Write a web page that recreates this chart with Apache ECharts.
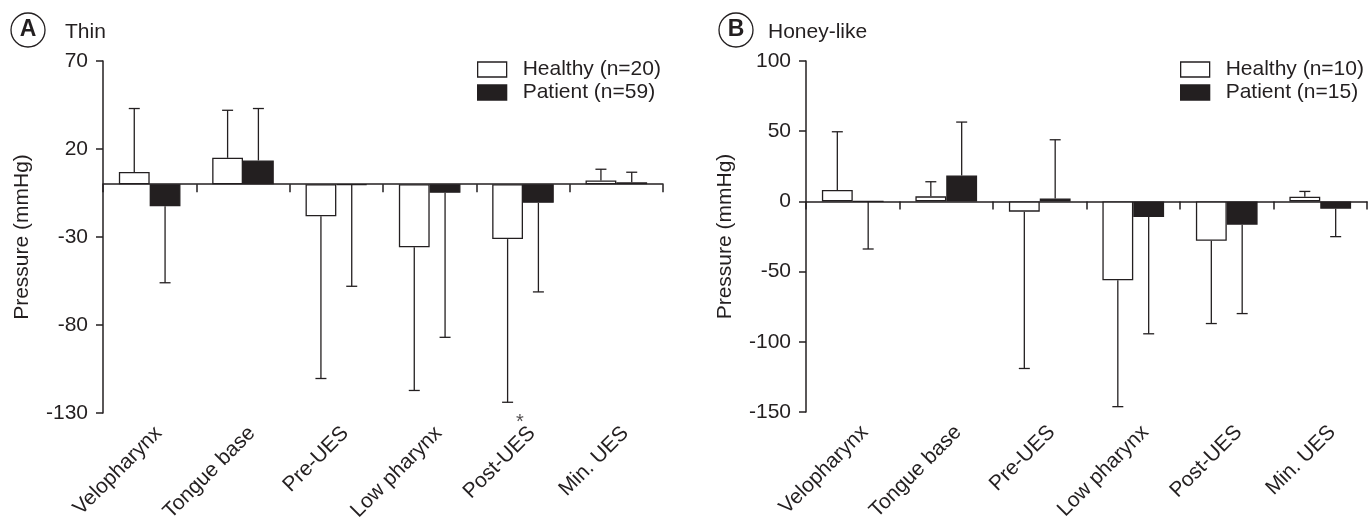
<!DOCTYPE html>
<html>
<head>
<meta charset="utf-8">
<script src="https://cdn.jsdelivr.net/npm/echarts@6/dist/echarts.min.js"></script>
<style>
html,body{margin:0;padding:0;background:#fff;}
#chart{width:1368px;height:519px;}
</style>
</head>
<body>
<div id="chart"></div>
<script>
// ---------- data ----------
const categories = ['Velopharynx', 'Tongue base', 'Pre-UES', 'Low pharynx', 'Post-UES', 'Min. UES'];

// Panel A: Thin
const thinHealthy    = [7, 15, -18.2, -35.8, -31.2, 2.1];
const thinHealthyErr = [43, 42, -110.4, -117.2, -123.9, 8.5];   // error bar end values
const thinPatient    = [-12.5, 13.5, -0.5, -4.9, -10.6, 1.1];
const thinPatientErr = [-56, 43, -58, -87, -61.2, 6.8];
const thinTicks      = [70, 20, -30, -80, -130];
const thinLegend     = ['Healthy (n=20)', 'Patient (n=59)'];
const thinMarkCats   = ['Post-UES'];
const thinMarkText   = ['*'];

// Panel B: Honey-like
const honeyHealthy    = [8.1, 3.6, -7.3, -56.2, -28, 3.3];
const honeyHealthyErr = [49.6, 14, -119, -146.2, -87, 7.1];
const honeyPatient    = [0, 18.5, 2.1, -11.1, -16.6, -5.2];
const honeyPatientErr = [-33.9, 56.5, 43.9, -94.3, -79.9, -25.1];
const honeyTicks      = [100, 50, 0, -50, -100, -150];
const honeyLegend     = ['Healthy (n=10)', 'Patient (n=15)'];

// ---------- styles ----------
const INK = '#231f20';
const FONT = '"Liberation Sans", Arial, Helvetica, sans-serif';
const FS = 21;
const CAT_GAP = 0.34;

function errRender(side) {
  return function (params, api) {
    const i = api.value(0);
    const p0 = api.coord([i, api.value(1)]);
    const p1 = api.coord([i, api.value(2)]);
    const band = api.size([1, 0])[0];
    const x = p0[0] + side * band * (1 - CAT_GAP) / 4;
    const cap = 5.5;
    const st = { stroke: INK, lineWidth: 1.3 };
    return {
      type: 'group',
      children: [
        { type: 'line', shape: { x1: x, y1: p0[1], x2: x, y2: p1[1] }, style: st },
        { type: 'line', shape: { x1: x - cap, y1: p1[1], x2: x + cap, y2: p1[1] }, style: st }
      ]
    };
  };
}

function errData(mean, end) {
  return mean.map((m, i) => [i, m, end[i]]);
}

function yAxisFor(gridIndex, ticks, useCustom) {
  const min = Math.min.apply(null, ticks), max = Math.max.apply(null, ticks);
  const ax = {
    type: 'value', gridIndex: gridIndex, min: min, max: max,
    name: 'Pressure (mmHg)', nameLocation: 'middle', nameGap: 70,
    nameTextStyle: { fontSize: FS, color: INK, fontFamily: FONT },
    axisLine: { show: true, lineStyle: { color: INK, width: 1.5 } },
    axisTick: { show: true, length: 7, lineStyle: { color: INK, width: 1.5 } },
    axisLabel: { fontSize: FS, color: INK, fontFamily: FONT, margin: 15 },
    splitLine: { show: false }
  };
  if (useCustom) {
    ax.axisLabel.customValues = ticks;
    ax.axisTick.customValues = ticks;
  } else {
    ax.interval = 50;
  }
  return ax;
}

function zeroXAxis(gridIndex) {
  return {
    type: 'category', gridIndex: gridIndex, data: categories, position: 'bottom',
    axisLine: { onZero: true, lineStyle: { color: INK, width: 1.5 } },
    axisTick: { show: true, length: 8, lineStyle: { color: INK, width: 1.5 } },
    axisLabel: { show: false }
  };
}
function labelXAxis(gridIndex) {
  return {
    type: 'category', gridIndex: gridIndex, data: categories, position: 'bottom',
    axisLine: { show: false, onZero: false },
    axisTick: { show: false },
    axisLabel: { rotate: 45, fontSize: FS, color: INK, fontFamily: FONT, margin: 17, interval: 0 }
  };
}
function hiddenY(gridIndex) {
  return { type: 'value', gridIndex: gridIndex, show: false, min: 0, max: 1 };
}

function legendFor(names, left) {
  return {
    orient: 'vertical', left: left, top: 59, itemWidth: 29, itemHeight: 15, itemGap: 2,
    padding: 0, selectedMode: false,
    textStyle: { fontSize: FS, color: INK, fontFamily: FONT, padding: [0, 0, 0, 11] },
    data: [
      { name: names[0], icon: 'rect', itemStyle: { color: '#fff', borderColor: INK, borderWidth: 1.3 } },
      { name: names[1], icon: 'rect', itemStyle: { color: INK, borderColor: INK, borderWidth: 1.3 } }
    ]
  };
}

function circleTitle(letter, left) {
  return {
    text: '{c|' + letter + '}', left: left, top: 13, padding: 0,
    textStyle: {
      rich: {
        c: { width: 34, height: 34, lineHeight: 34, borderRadius: 17, borderColor: INK, borderWidth: 1.3,
             align: 'center', fontSize: 23, fontWeight: 'bold', color: INK, fontFamily: FONT }
      }
    }
  };
}
function textTitle(txt, left) {
  return { text: txt, left: left, top: 22, padding: 0,
           textStyle: { fontSize: FS, fontWeight: 'normal', color: INK, fontFamily: FONT } };
}

function barSeries(name, data, xi, yi, fill) {
  return {
    type: 'bar', name: name, xAxisIndex: xi, yAxisIndex: yi, data: data,
    barGap: 0, barCategoryGap: (CAT_GAP * 100) + '%',
    itemStyle: { color: fill, borderColor: INK, borderWidth: 1.3 },
    emphasis: { disabled: true }, z: 3
  };
}
function errSeries(side, mean, end, xi, yi) {
  return {
    type: 'custom', xAxisIndex: xi, yAxisIndex: yi, renderItem: errRender(side),
    encode: { x: 0, y: [1, 2] }, data: errData(mean, end), z: 2, silent: true
  };
}

function gridAt(left, width, height) {
  return { left: left, top: 61, width: width, height: height, containLabel: false, outerBoundsMode: 'none' };
}

const chart = echarts.init(document.getElementById('chart'), null, { renderer: 'canvas' });
const option = {
  animation: false,
  textStyle: { fontFamily: FONT },
  title: [
    circleTitle('A', 11), textTitle('Thin', 65),
    circleTitle('B', 719), textTitle('Honey-like', 768)
  ],
  legend: [legendFor(thinLegend, 477), legendFor(honeyLegend, 1180)],
  grid: [
    gridAt(103, 560, 352),
    gridAt(112, 560, 352),
    gridAt(806, 561, 351),
    gridAt(818, 561, 351)
  ],
  xAxis: [zeroXAxis(0), labelXAxis(1), zeroXAxis(2), labelXAxis(3)],
  yAxis: [yAxisFor(0, thinTicks, true), hiddenY(1), yAxisFor(2, honeyTicks, false), hiddenY(3)],
  series: [
    barSeries(thinLegend[0], thinHealthy, 0, 0, '#fff'),
    barSeries(thinLegend[1], thinPatient, 0, 0, INK),
    errSeries(-1, thinHealthy, thinHealthyErr, 0, 0),
    errSeries(1, thinPatient, thinPatientErr, 0, 0),
    {
      type: 'scatter', xAxisIndex: 0, yAxisIndex: 0, symbol: 'circle', symbolSize: 1, silent: true,
      itemStyle: { color: 'rgba(0,0,0,0)' },
      data: thinMarkCats.map((c, i) => ({ value: [c, Math.min.apply(null, thinTicks)], label: { formatter: thinMarkText[i] } })),
      label: { show: true, position: 'bottom', distance: 0, offset: [-3, -1], fontSize: 20, color: INK, fontFamily: FONT },
      z: 5
    },
    barSeries(honeyLegend[0], honeyHealthy, 2, 2, '#fff'),
    barSeries(honeyLegend[1], honeyPatient, 2, 2, INK),
    errSeries(-1, honeyHealthy, honeyHealthyErr, 2, 2),
    errSeries(1, honeyPatient, honeyPatientErr, 2, 2)
  ]
};
chart.setOption(option);
</script>
</body>
</html>
